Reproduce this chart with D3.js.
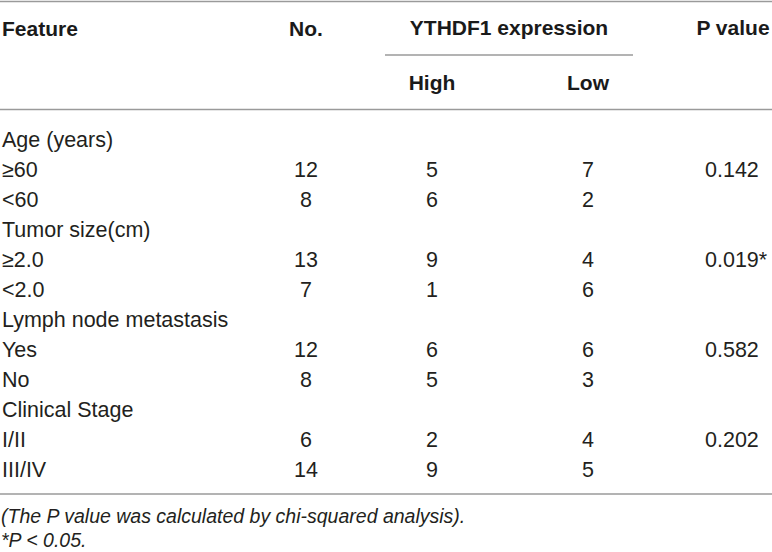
<!DOCTYPE html>
<html>
<head>
<meta charset="utf-8">
<script src="https://cdn.jsdelivr.net/npm/d3@7"></script>
<style>
  html, body { margin: 0; padding: 0; background: #fff; }
  svg { display: block; }
</style>
</head>
<body>
<svg id="chart" width="772" height="552"></svg>
<script>
// ---- data ----
const groups = ["Age (years)", "Tumor size(cm)", "Lymph node metastasis", "Clinical Stage"];
const subgroups = [["≥60", "<60"], ["≥2.0", "<2.0"], ["Yes", "No"], ["I/II", "III/IV"]];
const counts = [[12, 8], [13, 7], [12, 8], [6, 14]];
const highValues = [[5, 6], [9, 1], [6, 5], [2, 9]];
const lowValues = [[7, 2], [4, 6], [6, 3], [4, 5]];
const pValues = ["0.142", "0.019*", "0.582", "0.202"];
const headers = ["Feature", "No.", "YTHDF1 expression", "P value"];
const subHeaders = ["High", "Low"];
const footnotes = ["(The P value was calculated by chi-squared analysis).", "*P < 0.05."];

// ---- build rows ----
const rows = [];
groups.forEach((g, i) => {
  rows.push({ label: g, type: "group" });
  subgroups[i].forEach((s, j) => {
    rows.push({ label: s, type: "sub", no: counts[i][j], high: highValues[i][j], low: lowValues[i][j], p: j === 0 ? pValues[i] : "" });
  });
});

const svg = d3.select("#chart");
const W = 772;
const bodyFont = "'Liberation Sans', Arial, Helvetica, sans-serif";
const textColor = "#231f20";
const lineColor = "#9a9a9a";
const fs = 21.5;

const y = d3.scalePoint().domain(d3.range(rows.length)).range([139, 469]);
const col = d3.scaleOrdinal().domain(["feature", "no", "high", "low", "p"]).range([2, 306, 432, 588, 705]);

// lines
const hLines = [
  { y: 1.5, x1: 0, x2: W },
  { y: 55, x1: 385, x2: 633 },
  { y: 109.5, x1: 0, x2: W },
  { y: 494, x1: 0, x2: W }
];
svg.selectAll("line.rule").data(hLines).enter().append("line")
  .attr("class", "rule")
  .attr("x1", d => d.x1).attr("x2", d => d.x2)
  .attr("y1", d => d.y).attr("y2", d => d.y)
  .attr("stroke", lineColor).attr("stroke-width", 1.5);

// headers
const hdr = [
  { t: headers[0], x: col("feature"), anchor: "start", y: 36 },
  { t: headers[1], x: col("no"), anchor: "middle", y: 36 },
  { t: headers[2], x: 509, anchor: "middle", y: 35 },
  { t: headers[3], x: 733, anchor: "middle", y: 35 },
  { t: subHeaders[0], x: col("high"), anchor: "middle", y: 90 },
  { t: subHeaders[1], x: col("low"), anchor: "middle", y: 90 }
];
svg.selectAll("text.hdr").data(hdr).enter().append("text")
  .attr("class", "hdr")
  .attr("x", d => d.x).attr("y", d => d.y)
  .attr("text-anchor", d => d.anchor)
  .attr("font-family", bodyFont).attr("font-size", 21).attr("font-weight", "bold")
  .attr("fill", "#1a1a1a")
  .text(d => d.t);

// body
const rowG = svg.selectAll("g.row").data(rows).enter().append("g")
  .attr("class", "row")
  .attr("transform", (d, i) => `translate(0,${y(i) + 7.5})`);

rowG.append("text").attr("x", col("feature")).attr("text-anchor", "start")
  .attr("font-family", bodyFont).attr("font-size", fs).attr("fill", textColor)
  .text(d => d.label);

const sub = rowG.filter(d => d.type === "sub");
[["no", "middle"], ["high", "middle"], ["low", "middle"], ["p", "start"]].forEach(([k, a]) => {
  sub.append("text").attr("x", col(k)).attr("text-anchor", a)
    .attr("font-family", bodyFont).attr("font-size", fs).attr("fill", textColor)
    .text(d => d[k]);
});

// footnotes
svg.selectAll("text.foot").data(footnotes).enter().append("text")
  .attr("class", "foot")
  .attr("x", 1).attr("y", (d, i) => [523, 547][i])
  .attr("font-family", bodyFont).attr("font-size", 19.5).attr("font-style", "italic")
  .attr("fill", textColor)
  .text(d => d);
</script>
</body>
</html>
